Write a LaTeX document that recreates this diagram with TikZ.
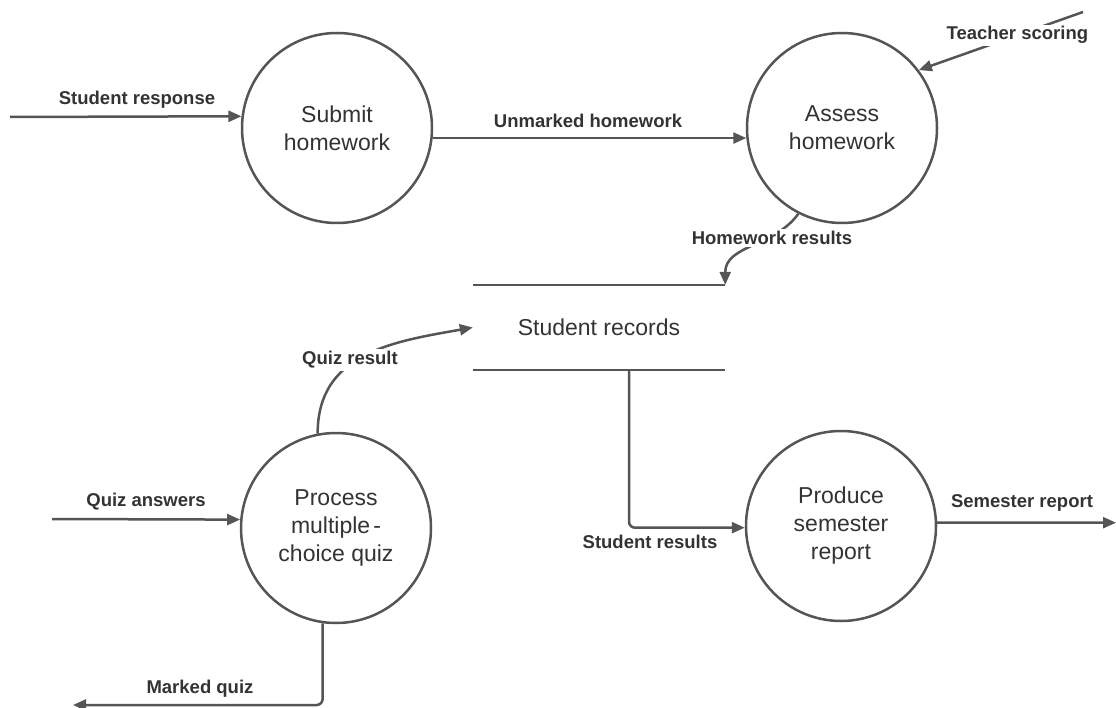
\documentclass[tikz,border=0pt]{standalone}
\usepackage{fontspec}
\setmainfont{Liberation Sans}
\usetikzlibrary{arrows.meta,calc}
\definecolor{linec}{HTML}{555555}
\definecolor{textc}{HTML}{333333}
\tikzset{
  proc/.style={circle, draw=linec, line width=2.5pt, minimum size=190pt, inner sep=0pt,
    align=center, text=textc, font=\fontsize{23}{28}\selectfont},
  flow/.style={draw=linec, line width=2.5pt, -{Triangle[length=13pt,width=11pt]}},
  plain/.style={draw=linec, line width=2.5pt},
  lbl/.style={text=textc, font=\bfseries\fontsize{18.5}{22}\selectfont, inner sep=2pt},
  wlbl/.style={lbl, fill=white},
  storetext/.style={text=textc, font=\fontsize{23}{28}\selectfont, minimum width=252pt, minimum height=85pt, inner sep=0pt}
}
\begin{document}
\begin{tikzpicture}[x=1pt,y=-1pt]
\useasboundingbox (0,0) rectangle (1116,708);
% processes
\node[proc] (submit) at (337,128) {Submit\\homework};
\node[proc] (assess) at (842,128) {Assess\\homework};
\node[proc] (quiz) at (336,528) {Process\\multiple\kern3pt-\\choice quiz};
\node[proc] (report) at (841,526) {Produce\\semester\\report};
% data store
\node[storetext] (store) at (599,327.5) {Student records};
\draw[plain] (store.north west) -- (store.north east);
\draw[plain] (store.south west) -- (store.south east);
% free ends
\coordinate (srin) at (10,117);
\coordinate (tsin) at (1083,12);
\coordinate (qain) at (52,519);
\coordinate (mqout) at (73,705);
\coordinate (semout) at (1116,522.7);
% flows
\draw[flow] (srin) -- (submit.173);
\node[lbl] (srl) at (137,100) {Student response};
\draw[flow] (submit.-6) -- (assess.186);
\node[lbl] (uhl) at (588,121) {Unmarked homework};
\draw[flow] (tsin) -- node[wlbl, pos=0.4] (tsl) {Teacher scoring} (assess.37);
\draw[flow] (assess.243) to[out=235, in=90] (store.north east);
\node[wlbl] (hrl) at (772,238) {Homework results};
\draw[flow] (quiz.101) to[out=90, in=190, looseness=1.1] (store.west);
\node[wlbl] (qrl) at (350,360) {Quiz result};
\draw[flow] (qain) -- (quiz.175);
\node[lbl] (qal) at (146,502) {Quiz answers};
\draw[flow, rounded corners=6pt] (quiz.262) |- (mqout);
\node[lbl] (mql) at (200,689) {Marked quiz};
\draw[flow, rounded corners=6pt] ([xshift=30pt]store.south) |- (report.181);
\node[lbl] (srsl) at (650,542) {Student results};
\draw[flow] (report.2) -- (semout);
\node[lbl] (sml) at (1022,503) {Semester report};
\end{tikzpicture}
\end{document}
